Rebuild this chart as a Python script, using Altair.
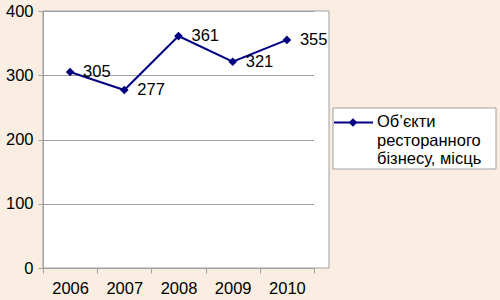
import altair as alt
import pandas as pd

years = ["2006", "2007", "2008", "2009", "2010"]
values = [305, 277, 361, 321, 355]
series_lines = ["Об’єкти", "ресторанного", "бізнесу, місць"]
y_ticks = [0, 100, 200, 300, 400]

NAVY = "#000080"
GRAY = "#A0A0A0"
FONT = "Liberation Sans"
FS = 16.5

df = pd.DataFrame({"year": years, "value": values})
one = pd.DataFrame({"a": [0]})

W, H = 271, 257

x_enc = alt.X("year:N", sort=years, title=None,
              scale=alt.Scale(paddingInner=0, paddingOuter=0),
              axis=alt.Axis(labelAngle=0, labelFontSize=FS, labelColor="black",
                            labelFont=FONT, domainColor=GRAY, tickColor=GRAY,
                            tickSize=5, labelPadding=7, tickBand="extent", grid=False))
y_enc = alt.Y("value:Q", title=None,
              scale=alt.Scale(domain=[0, 400], nice=False),
              axis=alt.Axis(values=y_ticks, labelFontSize=FS, labelColor="black",
                            labelFont=FONT, domainColor=GRAY, tickColor=GRAY,
                            tickSize=5, labelPadding=5, grid=True, gridColor=GRAY))

base = alt.Chart(df)

# frame extension and border
strip = alt.Chart(one).mark_rect(fill="white").encode(
    x=alt.value(W), x2=alt.value(W + 15), y=alt.value(0), y2=alt.value(H))
frame = alt.Chart(one).mark_rect(fill="transparent", stroke=GRAY, strokeWidth=1).encode(
    x=alt.value(0), x2=alt.value(W + 15), y=alt.value(0), y2=alt.value(H))

line = base.mark_line(color=NAVY, strokeWidth=2).encode(x=x_enc, y=y_enc)
pts = base.mark_point(shape="diamond", filled=True, color=NAVY, size=75, opacity=1).encode(
    x=alt.X("year:N", sort=years), y="value:Q")
labels = base.mark_text(align="left", baseline="middle", dx=13, fontSize=FS,
                        font=FONT, color="black").encode(
    x=alt.X("year:N", sort=years), y="value:Q", text="value:Q")

# legend
LX, LY = 290, 97
leg_box = alt.Chart(one).mark_rect(fill="white", stroke=GRAY, strokeWidth=1).encode(
    x=alt.value(LX), x2=alt.value(LX + 163), y=alt.value(LY), y2=alt.value(LY + 61))
leg_line = alt.Chart(one).mark_rule(color=NAVY, strokeWidth=2).encode(
    x=alt.value(LX + 1), x2=alt.value(LX + 40), y=alt.value(LY + 14.5))
leg_pt = alt.Chart(one).mark_point(shape="diamond", filled=True, color=NAVY, size=75,
                                   opacity=1).encode(
    x=alt.value(LX + 20), y=alt.value(LY + 14.5))
leg_texts = []
for i, t in enumerate(series_lines):
    leg_texts.append(
        alt.Chart(one).mark_text(align="left", baseline="middle", fontSize=FS,
                                 font=FONT, color="black").encode(
            x=alt.value(LX + 44), y=alt.value(LY + 14 + i * 18.7), text=alt.value(t)))

chart = alt.layer(strip, frame, line, pts, labels, leg_box, leg_line, leg_pt, *leg_texts).properties(
    width=W, height=H,
    background="#FAEEE3",
    padding={"left": 43, "top": 11, "right": 186, "bottom": 32},
    autosize=alt.AutoSizeParams(type="none"),
).configure_view(fill="white", stroke=None)

chart.save("out.html", embed_options={"renderer": "svg", "actions": False})
